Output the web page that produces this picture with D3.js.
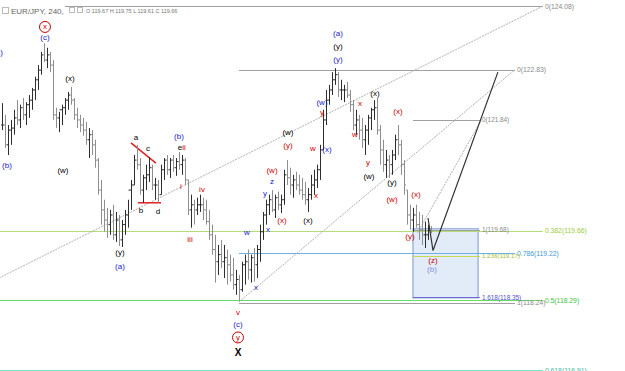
<!DOCTYPE html>
<html>
<head>
<meta charset="utf-8">
<script src="https://cdn.jsdelivr.net/npm/d3@7"></script>
<style>
  body { margin: 0; background: #fff; }
  svg { display: block; font-family: "Liberation Sans", Arial, sans-serif; }
</style>
</head>
<body>
<svg id="chart" width="625" height="371"></svg>
<script>
// EUR/JPY H4 bars (price)
const highs = [122.17,121.94,121.74,121.84,122.04,122.23,122.14,122.27,122.19,122.33,122.47,122.69,122.92,123.18,123.35,123.26,123.18,123.02,122.08,122.00,
  122.14,122.27,122.39,122.49,122.27,122.08,121.94,121.88,121.80,121.68,121.64,121.45,121.09,120.66,120.27,120.11,120.07,120.17,120.03,119.97,
  119.87,120.07,120.27,120.66,121.15,121.35,121.09,120.76,120.96,121.11,120.96,120.70,120.66,120.96,121.09,121.15,121.09,121.15,121.09,121.21,
  121.15,121.09,120.66,120.37,120.27,120.31,120.37,120.31,120.27,120.07,119.78,119.58,119.38,119.48,119.38,119.29,119.19,119.13,118.89,118.79,
  119.05,119.19,119.29,119.19,119.32,119.38,119.78,120.03,120.27,120.37,120.46,120.37,120.43,120.37,120.86,121.05,120.90,120.76,120.82,120.76,
  120.70,120.62,120.50,120.76,120.86,120.96,121.35,122.04,122.43,122.53,122.78,122.86,122.78,122.63,122.53,122.59,122.43,122.23,122.04,121.94,
  121.88,121.74,121.94,122.08,122.23,122.27,121.74,121.45,121.25,121.15,121.25,121.55,121.74,121.45,121.05,120.46,120.17,120.11,120.17,120.03,
  119.97,119.84,119.78,119.75]
const lows = [121.64,121.29,121.15,121.35,121.55,121.74,121.68,121.84,121.74,121.88,122.04,122.23,122.43,122.73,122.98,122.86,122.78,121.84,121.68,121.60,
  121.74,121.94,122.04,122.14,121.84,121.68,121.60,121.53,121.35,121.09,121.15,120.90,120.37,119.78,119.64,119.52,119.58,119.48,119.44,119.36,
  119.34,119.58,119.72,120.07,120.56,120.86,120.37,120.21,120.46,120.62,120.46,120.27,120.21,120.37,120.66,120.76,120.70,120.82,120.74,120.86,
  120.76,120.56,119.97,119.72,119.78,119.97,120.03,119.87,119.78,119.48,119.19,118.64,118.79,118.93,118.73,118.60,118.66,118.50,118.40,118.28,
  118.46,118.60,118.70,118.64,118.66,118.73,119.05,119.48,119.78,119.97,120.03,119.91,120.07,120.01,120.17,120.56,120.37,120.31,120.46,120.37,
  120.27,120.17,120.03,120.27,120.37,120.50,120.66,121.25,121.74,122.14,122.33,122.53,122.29,122.23,122.19,122.27,122.00,121.64,121.55,121.45,
  121.29,121.15,121.35,121.64,121.84,121.55,120.96,120.82,120.70,120.70,120.76,121.05,121.15,120.76,120.37,119.78,119.68,119.64,119.72,119.48,
  119.38,119.32,119.48,119.61]
const closes = [121.74,121.35,121.64,121.68,121.88,121.84,122.08,121.94,122.14,122.23,122.43,122.63,122.82,123.12,123.02,123.12,122.92,121.94,121.88,122.04,
  122.08,122.23,122.33,122.23,121.94,121.84,121.74,121.64,121.45,121.55,121.35,121.05,120.46,120.07,119.87,119.78,119.97,119.58,119.87,119.48,
  119.78,119.97,120.46,120.56,121.05,120.96,120.46,120.70,120.76,120.90,120.56,120.56,120.37,120.86,121.05,120.86,121.05,120.90,121.02,120.96,
  121.05,120.66,120.07,120.17,120.07,120.17,120.17,120.07,119.84,119.58,119.29,119.05,119.19,119.05,119.13,118.99,118.79,118.60,118.70,118.50,
  118.99,119.05,118.89,119.13,118.99,119.29,119.64,119.97,120.17,120.27,120.07,120.31,120.17,120.27,120.76,120.70,120.56,120.66,120.56,120.46,
  120.37,120.27,120.37,120.56,120.66,120.86,121.25,121.84,122.23,122.43,122.63,122.73,122.43,122.43,122.43,122.33,122.14,121.74,121.84,121.64,
  121.45,121.64,121.88,122.04,122.08,121.64,121.25,120.96,121.05,120.96,121.15,121.45,121.35,120.96,120.56,119.97,119.87,119.97,119.78,119.68,
  119.58,119.58,119.67,119.66]

// fibo / horizontal levels: [label, price, fromBar, toBar, line colour, text colour, font size]
const levels = [
  ['0(124.08)', 124.08, 21, 180.3, '#a0a0a0', '#8a8a8a', 6.8],
  ['0(122.83)', 122.83, 79, 171, '#a0a0a0', '#8a8a8a', 6.8],
  ['0(121.84)', 121.84, 137, 159.3, '#a0a0a0', '#8a8a8a', 6.4],
  ['1(119.68)', 119.68, 137, 159.3, '#a0a0a0', '#8a8a8a', 6.4],
  ['0.382(119.66)', 119.66, -1, 180.3, '#b4dc78', '#9ccc3c', 6.8],
  ['0.786(119.22)', 119.22, 79, 171, '#6eb0e0', '#3d9ad6', 6.8],
  ['1.236(119.17)', 119.17, 137, 159.3, '#c8d850', '#a8c030', 6.2],
  ['1.618(118.35)', 118.35, 137, 159.3, '#6a6ad8', '#5050c8', 6.4],
  ['0.5(118.29)', 118.29, -1, 180.3, '#66dd66', '#3cc03c', 6.8],
  ['1(118.24)', 118.24, 79, 171, '#a0a0a0', '#8a8a8a', 6.8],
  ['0.618(116.91)', 116.91, -1, 180.3, '#80e0c4', '#40c0a0', 6.8]
]

// thin dotted trend lines: [[bar, price], [bar, price]]
const trendLines = [
  [[-1, 118.73], [180.3, 124.08]],
  [[79, 118.26], [171, 122.83]],
  [[138.5, 119.62], [159.8, 121.84]]
]
const projection = [[142, 119.91], [143.67, 119.27], [165.3, 122.78]]
const zone = { from: 137, to: 158.7, top: 119.70, bottom: 118.34 }

// triangle lines (red)
const triangle = [
  [[43, 121.39], [51.3, 120.99]],
  [[45.3, 120.21], [53, 120.21]]
]

const blue = '#2222cc', red = '#cc0000', black = '#000'
// wave labels: [text, bar, price, colour, circled]
const waveLabels = [
  ['(a)', -1.33, 123.16, blue], ['(b)', 1.67, 120.94, blue], ['(c)', 14.33, 123.47, blue],
  ['x', 14.33, 123.67, red, true], ['(x)', 22.67, 122.65, black], ['(w)', 20.33, 120.84, black],
  ['(y)', 39.33, 119.23, black], ['(a)', 39.33, 118.95, blue],
  ['a', 44.67, 121.49, black], ['c', 48.67, 121.27, black], ['b', 46.33, 120.05, black], ['d', 52, 120.03, black],
  ['e', 59.33, 121.29, black], ['ii', 60.67, 121.29, red], ['(b)', 59, 121.51, blue],
  ['i', 59.67, 120.54, red], ['iii', 62.67, 119.48, red], ['iv', 66.67, 120.48, red],
  ['v', 78.67, 118.05, red], ['(c)', 78.67, 117.81, blue], ['y', 78.67, 117.56, red, true], ['X', 78.67, 117.26, black],
  ['w', 81.67, 119.62, blue], ['x', 84.67, 118.54, blue], ['x', 88.67, 119.68, blue], ['y', 87.67, 120.39, blue], ['z', 90, 120.62, blue],
  ['(w)', 90, 120.84, red], ['(x)', 93.33, 119.87, red], ['(y)', 95.33, 121.33, red], ['(w)', 95.33, 121.59, black],
  ['(x)', 102, 119.87, black], ['w', 103.67, 121.27, red], ['x', 104.67, 120.35, red],
  ['y', 106.67, 121.99, red], ['(w)', 106.67, 122.19, blue], ['(x)', 108.33, 121.25, blue],
  ['(y)', 112, 123.02, blue], ['(y)', 112, 123.28, black], ['(a)', 112, 123.55, blue],
  ['w', 117.67, 121.55, red], ['x', 119.33, 122.17, red], ['(x)', 124.33, 122.37, black],
  ['y', 122, 121.00, red], ['(w)', 122.33, 120.72, black], ['(y)', 130, 120.60, black],
  ['(x)', 132, 122.00, red], ['(w)', 130, 120.27, red], ['(x)', 138, 120.37, red], ['(y)', 136, 119.54, red],
  ['(z)', 143.67, 119.07, red], ['(b)', 143.33, 118.89, '#8c8cdc']
]

const svg = d3.select('#chart')
const W = 625, H = 371

const x = d3.scaleLinear().domain([0, 1]).range([2, 5])
const y = d3.scaleLinear().domain([116.90, 124.20]).range([H, 0])

const bars = highs.map((h, i) => ({
  i, high: h, low: lows[i], close: closes[i],
  open: i === 0 ? closes[0] : Math.max(lows[i], Math.min(h, closes[i - 1]))
}))

// zone box
svg.append('rect')
  .attr('x', x(zone.from)).attr('y', y(zone.top))
  .attr('width', x(zone.to) - x(zone.from)).attr('height', y(zone.bottom) - y(zone.top))
  .attr('fill', '#e1ecf8').attr('stroke', '#9fb8dc').attr('stroke-width', 1.5)

// levels
const lv = svg.append('g')
lv.selectAll('line').data(levels).join('line')
  .attr('x1', d => x(d[2])).attr('x2', d => x(d[3]))
  .attr('y1', d => Math.round(y(d[1])) + 0.5).attr('y2', d => Math.round(y(d[1])) + 0.5)
  .attr('stroke', d => d[4]).attr('stroke-width', 1)
lv.selectAll('text').data(levels).join('text')
  .attr('x', d => x(d[3]) + 2).attr('y', d => y(d[1]))
  .attr('dominant-baseline', 'central')
  .style('font-size', d => d[6] + 'px')
  .attr('fill', d => d[5])
  .text(d => d[0])

// dotted trend lines
svg.append('g').selectAll('line').data(trendLines).join('line')
  .attr('x1', d => x(d[0][0])).attr('y1', d => y(d[0][1]))
  .attr('x2', d => x(d[1][0])).attr('y2', d => y(d[1][1]))
  .attr('stroke', '#b0b0b0').attr('stroke-width', 1).attr('stroke-dasharray', '2,1')

// red triangle lines
svg.append('g').selectAll('line').data(triangle).join('line')
  .attr('x1', d => x(d[0][0])).attr('y1', d => y(d[0][1]))
  .attr('x2', d => x(d[1][0])).attr('y2', d => y(d[1][1]))
  .attr('stroke', '#e02020').attr('stroke-width', 1.5)

// price bars
const bg = svg.append('g')
bars.forEach(d => {
  const cx = Math.round(x(d.i)) + 0.5
  const col = d.close >= d.open ? '#2e2e2e' : '#8e8e8e'
  bg.append('line').attr('x1', cx).attr('x2', cx).attr('y1', y(d.high)).attr('y2', y(d.low)).attr('stroke', col)
  bg.append('line').attr('x1', cx - 1.5).attr('x2', cx).attr('y1', y(d.open)).attr('y2', y(d.open)).attr('stroke', col)
  bg.append('line').attr('x1', cx).attr('x2', cx + 1.5).attr('y1', y(d.close)).attr('y2', y(d.close)).attr('stroke', col)
})

// projection path
svg.append('path')
  .datum(projection)
  .attr('d', d3.line().x(d => x(d[0])).y(d => y(d[1])))
  .attr('fill', 'none').attr('stroke', '#333').attr('stroke-width', 1.2)

// wave labels
const wl = svg.append('g')
waveLabels.filter(d => d[4]).forEach(d => {
  wl.append('circle').attr('cx', x(d[1])).attr('cy', y(d[2])).attr('r', 5.5)
    .attr('fill', 'none').attr('stroke', d[3]).attr('stroke-width', 1)
})
wl.selectAll('text').data(waveLabels).join('text')
  .attr('x', d => x(d[1])).attr('y', d => y(d[2]))
  .attr('text-anchor', 'middle').attr('dominant-baseline', 'central')
  .style('font-size', d => d[0] === 'X' ? '10px' : '8px')
  .style('font-weight', d => d[0] === 'X' ? 'bold' : 'normal')
  .attr('fill', d => d[3])
  .text(d => d[0])

// header
const hd = svg.append('g')
hd.append('rect').attr('x', 2.5).attr('y', 7.5).attr('width', 6).attr('height', 6).attr('fill', 'none').attr('stroke', '#bbb')
hd.append('text').attr('x', 11).attr('y', 14).style('font-size', '8px').attr('fill', '#666').text('EUR/JPY, 240,')
hd.append('rect').attr('x', 69.5).attr('y', 7.5).attr('width', 5).attr('height', 5).attr('fill', 'none').attr('stroke', '#bbb')
hd.append('rect').attr('x', 77.5).attr('y', 7.5).attr('width', 5).attr('height', 5).attr('fill', 'none').attr('stroke', '#bbb')
hd.append('text').attr('x', 86).attr('y', 13).style('font-size', '5.5px').attr('fill', '#777')
  .text('O 119.67 H 119.75 L 119.61 C 119.66')
</script>
</body>
</html>
